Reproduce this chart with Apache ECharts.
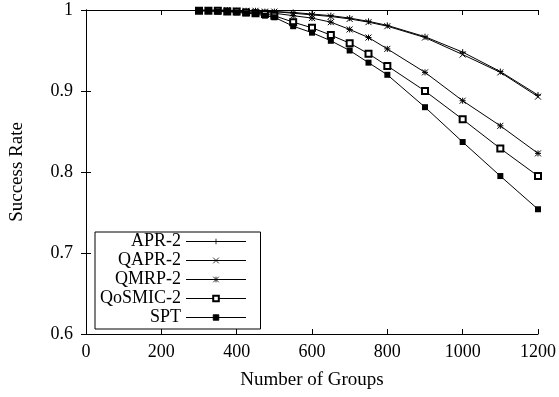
<!DOCTYPE html>
<html>
<head>
<meta charset="utf-8">
<script src="https://cdn.jsdelivr.net/npm/echarts@6/dist/echarts.min.js"></script>
<style>
  html, body { margin: 0; padding: 0; background: #fff; }
  #chart { width: 559px; height: 397px; }
</style>
</head>
<body>
<div id="chart"></div>
<script>
const groups = [300, 325, 350, 375, 400, 425, 450, 475, 500, 550, 600, 650, 700, 750, 800, 900, 1000, 1100, 1200]
const apr2 = [1, 1, 1, 1, 0.999, 0.999, 0.999, 0.998, 0.998, 0.997, 0.995, 0.993, 0.990, 0.986, 0.981, 0.967, 0.948, 0.924, 0.895]
const qapr2 = [1, 1, 1, 1, 0.999, 0.999, 0.999, 0.998, 0.998, 0.996, 0.994, 0.992, 0.989, 0.985, 0.980, 0.966, 0.945, 0.923, 0.893]
const qmrp2 = [1, 0.999, 0.999, 0.999, 0.998, 0.998, 0.997, 0.997, 0.996, 0.993, 0.990, 0.985, 0.976, 0.966, 0.952, 0.923, 0.888, 0.857, 0.823]
const qosmic2 = [0.999, 0.999, 0.999, 0.998, 0.998, 0.997, 0.996, 0.995, 0.993, 0.985, 0.978, 0.969, 0.959, 0.946, 0.931, 0.900, 0.865, 0.829, 0.795]
const spt = [0.999, 0.999, 0.998, 0.998, 0.997, 0.996, 0.995, 0.993, 0.991, 0.980, 0.972, 0.962, 0.950, 0.935, 0.920, 0.880, 0.837, 0.795, 0.754]

const font = 'Liberation Serif'
const black = '#000'

// gnuplot style point shapes
const plusPath = 'path://M5,0L5,10M0,5L10,5'
const crossPath = 'path://M0,0L10,10M10,0L0,10'
const starPath = 'path://M0,0L10,10M10,0L0,10M5,0L5,10M0,5L10,5'

const pairs = function (ys) {
  return groups.map((g, i) => [g, ys[i]])
}

const makeSeries = function (name, ys, symbol, size, border) {
  return {
    name: name,
    type: 'line',
    data: pairs(ys),
    symbol: symbol,
    symbolSize: size,
    showSymbol: true,
    lineStyle: { color: black, width: 1 },
    itemStyle: {
      color: black,
      borderColor: black,
      borderWidth: border
    },
    emphasis: { disabled: true },
    animation: false
  }
}

const axisCommon = {
  axisLine: { show: true, lineStyle: { color: black, width: 1 } },
  axisTick: { show: true, inside: true, length: 5, lineStyle: { color: black } },
  splitLine: { show: false }
}

const myChart = echarts.init(document.getElementById('chart'))
const option = {
  backgroundColor: '#fff',
  textStyle: { fontFamily: font, color: black },
  grid: { left: 84, right: 18, top: 10, bottom: 63 },
  legend: {
    orient: 'vertical',
    left: 95,
    top: 232,
    align: 'right',
    itemWidth: 60,
    itemHeight: 7,
    itemGap: 0,
    padding: [0, 14, 2, 5],
    borderColor: black,
    borderWidth: 1,
    lineStyle: { width: 1 },
    itemStyle: { borderWidth: 0.8 },
    textStyle: { fontFamily: font, fontSize: 18, color: black, lineHeight: 19 },
    data: ['APR-2', 'QAPR-2', 'QMRP-2', 'QoSMIC-2', 'SPT']
  },
  xAxis: [
    Object.assign({
      type: 'value',
      min: 0,
      max: 1200,
      interval: 200,
      name: 'Number of Groups',
      nameLocation: 'middle',
      nameGap: 37,
      nameTextStyle: { fontFamily: font, fontSize: 19, color: black },
      axisLabel: {
        fontFamily: font, fontSize: 18, color: black, margin: 9,
        formatter: function (v) { return String(v) }
      }
    }, axisCommon),
    Object.assign({
      type: 'value',
      position: 'top',
      min: 0,
      max: 1200,
      interval: 200,
      axisLabel: { show: false }
    }, axisCommon)
  ],
  yAxis: [
    Object.assign({
      type: 'value',
      min: 0.6,
      max: 1,
      interval: 0.1,
      name: 'Success Rate',
      nameLocation: 'middle',
      nameRotate: 90,
      nameGap: 59,
      nameTextStyle: { fontFamily: font, fontSize: 19, color: black },
      axisLabel: { fontFamily: font, fontSize: 18, color: black, margin: 13 }
    }, axisCommon),
    Object.assign({
      type: 'value',
      position: 'right',
      min: 0.6,
      max: 1,
      interval: 0.1,
      axisLabel: { show: false }
    }, axisCommon)
  ],
  series: [
    makeSeries('APR-2', apr2, plusPath, 6, 1),
    makeSeries('QAPR-2', qapr2, crossPath, 6, 1),
    makeSeries('QMRP-2', qmrp2, starPath, 6, 1),
    makeSeries('QoSMIC-2', qosmic2, 'emptyRect', 6, 1),
    makeSeries('SPT', spt, 'rect', 6, 0)
  ]
}
myChart.setOption(option)
</script>
</body>
</html>
